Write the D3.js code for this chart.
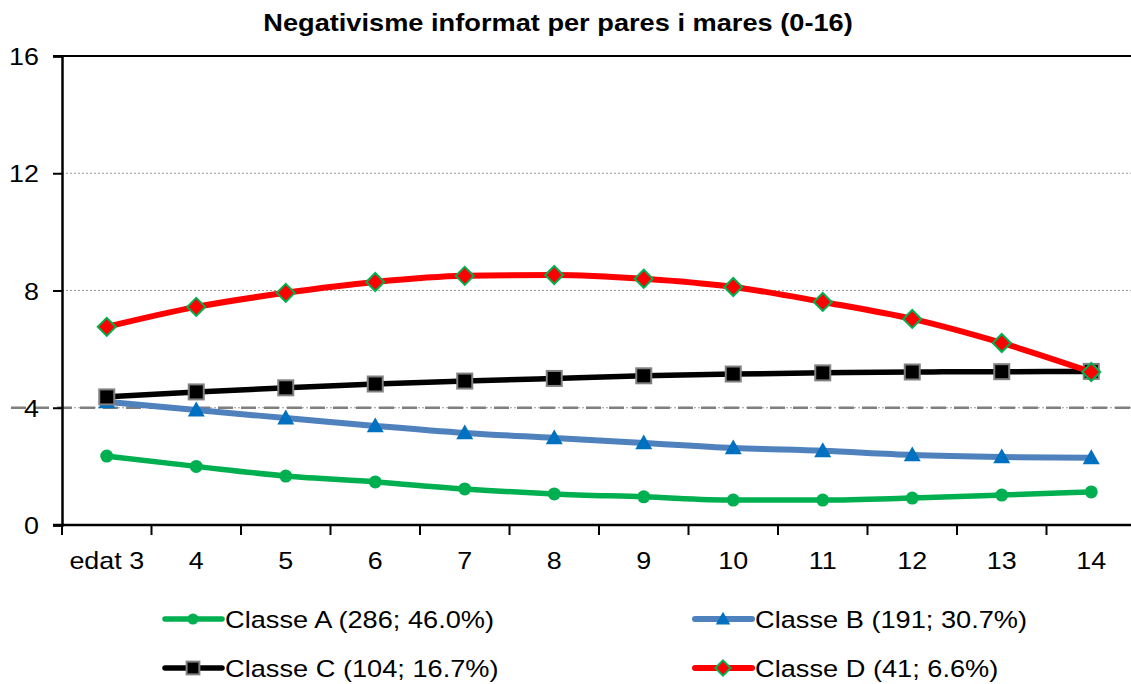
<!DOCTYPE html>
<html>
<head>
<meta charset="utf-8">
<script src="https://cdn.jsdelivr.net/npm/d3@7"></script>
<style>
  html, body { margin: 0; padding: 0; background: #fff; }
  svg { display: block; font-family: "Liberation Sans", Arial, sans-serif; }
</style>
</head>
<body>
<svg id="chart" width="1131" height="684"></svg>
<script>
// Ages on the horizontal axis
const categories = ["edat 3", "4", "5", "6", "7", "8", "9", "10", "11", "12", "13", "14"];
const yTicks = [0, 4, 8, 12, 16];

// Mean score per class at each age
const classeA = [2.35, 2.00, 1.67, 1.47, 1.23, 1.06, 0.96, 0.85, 0.85, 0.92, 1.02, 1.13];
const classeB = [4.20, 3.92, 3.65, 3.38, 3.14, 2.97, 2.80, 2.63, 2.53, 2.39, 2.32, 2.29];
const classeC = [4.37, 4.54, 4.68, 4.81, 4.91, 5.00, 5.09, 5.15, 5.19, 5.22, 5.23, 5.24];
const classeD = [6.76, 7.44, 7.92, 8.29, 8.50, 8.53, 8.40, 8.12, 7.61, 7.03, 6.21, 5.22];

const seriesNames = ["Classe A (286; 46.0%)", "Classe B (191; 30.7%)", "Classe C (104; 16.7%)", "Classe D (41; 6.6%)"];
const referenceValue = 4;

const series = [
  { name: seriesNames[0], values: classeA, line: "#00B050", width: 5.5, marker: "circle", fill: "#00B050", stroke: "none" },
  { name: seriesNames[1], values: classeB, line: "#4F81BD", width: 6, marker: "triangle", fill: "#0070C0", stroke: "none" },
  { name: seriesNames[2], values: classeC, line: "#000000", width: 5.5, marker: "square", fill: "#000000", stroke: "#808080" },
  { name: seriesNames[3], values: classeD, line: "#FF0000", width: 6, marker: "diamond", fill: "#FF0000", stroke: "#00B050" }
];

const svg = d3.select("#chart");
const SX = 1.12; // horizontal text stretch

const plotLeft = 62, plotTop = 56, plotBottom = 525, plotRight = 1136;

const x = d3.scaleBand().domain(categories).range([plotLeft, plotRight]).paddingInner(0).paddingOuter(0);
const y = d3.scaleLinear().domain([0, 16]).range([plotBottom, plotTop]);
const cx = c => x(c) + x.bandwidth() / 2;

function text(g, str, tx, ty, size, anchor, weight) {
  return g.append("text")
    .attr("transform", `translate(${tx},${ty}) scale(${SX},1)`)
    .attr("text-anchor", anchor || "start")
    .attr("font-size", size)
    .attr("font-weight", weight || "normal")
    .attr("fill", "#000")
    .text(str);
}

// Title
text(svg, "Negativisme informat per pares i mares (0-16)", 558, 31, 24.3, "middle", "bold");

// Horizontal gridlines
svg.append("g").selectAll("line")
  .data(yTicks.filter(v => v > 0 && v < 16))
  .join("line")
  .attr("x1", plotLeft).attr("x2", plotRight)
  .attr("y1", d => y(d)).attr("y2", d => y(d))
  .attr("stroke", "#9a9a9a").attr("stroke-width", 1)
  .attr("stroke-dasharray", "2,2");

// Reference dashed line
svg.append("line")
  .attr("x1", 11).attr("x2", plotRight)
  .attr("y1", y(referenceValue)).attr("y2", y(referenceValue))
  .attr("stroke", "#7f7f7f").attr("stroke-width", 2.5)
  .attr("stroke-dasharray", "15,8");

// Top border
svg.append("line")
  .attr("x1", plotLeft - 9).attr("x2", plotRight)
  .attr("y1", y(16)).attr("y2", y(16))
  .attr("stroke", "#000").attr("stroke-width", 2);

// Y axis
const yAxis = svg.append("g")
  .attr("transform", `translate(${plotLeft},0)`)
  .call(d3.axisLeft(y).tickValues(yTicks).tickSize(9).tickFormat(""));
yAxis.select(".domain").attr("stroke", "#000").attr("stroke-width", 2.5);
yAxis.selectAll(".tick line").attr("stroke", "#000").attr("stroke-width", 2);
yTicks.forEach(v => text(svg, String(v), 39, y(v) + 9, 24, "end"));

// X axis with ticks at category boundaries
svg.append("line")
  .attr("x1", plotLeft - 9).attr("x2", plotRight)
  .attr("y1", plotBottom).attr("y2", plotBottom)
  .attr("stroke", "#000").attr("stroke-width", 2.5);
const boundaries = categories.map(c => x(c)).concat([x.range()[1]]);
svg.append("g").selectAll("line")
  .data(boundaries)
  .join("line")
  .attr("x1", d => d).attr("x2", d => d)
  .attr("y1", plotBottom).attr("y2", plotBottom + 10)
  .attr("stroke", "#000").attr("stroke-width", 2);
categories.forEach(c => text(svg, c, cx(c), 569, 24, "middle"));

// Marker drawing
function drawMarker(g, s, px, py, scale) {
  const k = scale || 1;
  if (s.marker === "circle") {
    g.append("circle").attr("cx", px).attr("cy", py).attr("r", 6.5 * k).attr("fill", s.fill);
  } else if (s.marker === "triangle") {
    const h = 8.5 * k;
    g.append("path")
      .attr("d", `M${px},${py - h} L${px + h},${py + h * 0.75} L${px - h},${py + h * 0.75} Z`)
      .attr("fill", s.fill);
  } else if (s.marker === "square") {
    const h = 7.5 * k;
    g.append("rect").attr("x", px - h).attr("y", py - h).attr("width", 2 * h).attr("height", 2 * h)
      .attr("fill", s.fill).attr("stroke", s.stroke).attr("stroke-width", 2);
  } else if (s.marker === "diamond") {
    const h = 9 * k;
    g.append("path")
      .attr("d", `M${px},${py - h} L${px + h},${py} L${px},${py + h} L${px - h},${py} Z`)
      .attr("fill", s.fill).attr("stroke", s.stroke).attr("stroke-width", 2);
  }
}

const line = d3.line()
  .x((d, i) => cx(categories[i]))
  .y(d => y(d))
  .curve(d3.curveMonotoneX);

const plot = svg.append("g");
series.forEach(s => {
  plot.append("path")
    .datum(s.values)
    .attr("d", line)
    .attr("fill", "none")
    .attr("stroke", s.line)
    .attr("stroke-width", s.width)
    .attr("stroke-linejoin", "round")
    .attr("stroke-linecap", "round");
  const mg = plot.append("g");
  s.values.forEach((v, i) => drawMarker(mg, s, cx(categories[i]), y(v)));
});

// Legend
const legendPos = [
  { lx: 165, ly: 619 },
  { lx: 695, ly: 619 },
  { lx: 165, ly: 668 },
  { lx: 695, ly: 668 }
];
const lg = svg.append("g");
series.forEach((s, i) => {
  const p = legendPos[i];
  lg.append("line")
    .attr("x1", p.lx).attr("x2", p.lx + 57)
    .attr("y1", p.ly).attr("y2", p.ly)
    .attr("stroke", s.line).attr("stroke-width", s.width)
    .attr("stroke-linecap", "round");
  drawMarker(lg, s, p.lx + 28, p.ly, 0.85);
  text(lg, s.name, p.lx + 60, p.ly + 9, 24.3, "start");
});
</script>
</body>
</html>
